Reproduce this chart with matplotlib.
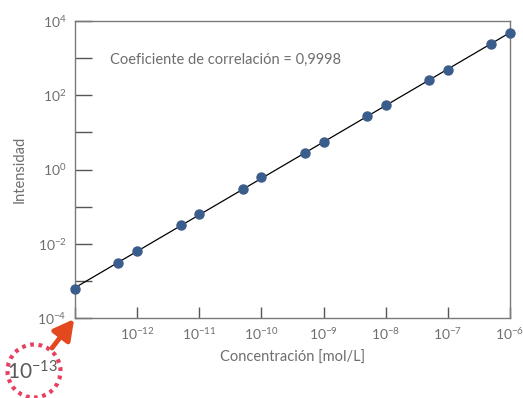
import numpy as np
import matplotlib
matplotlib.use("Agg")
import matplotlib.pyplot as plt
from matplotlib.patches import Circle

plt.rcParams['font.family'] = ['Lato', 'DejaVu Sans']
plt.rcParams['mathtext.fontset'] = 'custom'
plt.rcParams['mathtext.rm'] = 'Lato'

# curva de calibración: concentración vs intensidad
concentracion = [1e-13, 5e-13, 1e-12, 5e-12, 1e-11, 5e-11, 1e-10, 5e-10,
                 1e-9, 5e-9, 1e-8, 5e-8, 1e-7, 5e-7, 1e-6]
intensidad = [6.0e-4, 3.0e-3, 6.3e-3, 3.2e-2, 6.3e-2, 0.30, 0.63, 2.8,
              5.5, 27, 55, 260, 480, 2400, 4800]
coef_correlacion = "0,9998"

gris = '#6e6e6e'
azul = '#3b5d8c'

fig = plt.figure(figsize=(5.23, 3.98), dpi=100)
ax = fig.add_axes([0.1434, 0.201, 0.8316, 0.746])

# recta de regresión en escala log-log
lx = np.log10(concentracion)
ly = np.log10(intensidad)
m, b = np.polyfit(lx, ly, 1)
xr = np.array([1e-13, 1e-6])
ax.plot(xr, 10 ** (m * np.log10(xr) + b), color='black', lw=0.9, zorder=2)

ax.plot(concentracion, intensidad, 'o', color=azul, ms=6.5, zorder=3, clip_on=False)

ax.set_xscale('log')
ax.set_yscale('log')
ax.set_xlim(1e-13, 1e-6)
ax.set_ylim(1e-4, 1e4)

for s in ax.spines.values():
    s.set_color('#7a7a7a')
    s.set_linewidth(1.0)

# solo se rotulan las potencias pares en el eje y
ax.set_yticks([10.0 ** e for e in range(-4, 5)])
ax.set_yticklabels(['' if (e % 2) else r'$\mathdefault{10^{%d}}$' % e for e in range(-4, 5)])
ax.set_xticks([10.0 ** e for e in range(-13, -5)])
ax.set_xticklabels([''] + [r'$\mathdefault{10^{%d}}$' % e for e in range(-12, -5)])
ax.minorticks_off()

ax.tick_params(axis='y', direction='in', length=12, width=1, color='#555555',
               labelcolor=gris, labelsize=10, pad=6)
ax.tick_params(axis='x', direction='in', length=8, width=1, color='#555555',
               labelcolor=gris, labelsize=10, pad=6)

ax.set_xlabel('Concentración [mol/L]', color=gris, fontsize=10.5, labelpad=6)
ax.set_ylabel('Intensidad', color=gris, fontsize=10.5, labelpad=8)

ax.text(0.08, 0.87, 'Coeficiente de correlación = ' + coef_correlacion,
        transform=ax.transAxes, color=gris, fontsize=10.5, va='center', ha='left')

# marca del origen del eje x
circ = Circle((0.34, 0.27), 0.265, transform=fig.dpi_scale_trans, fill=False,
              edgecolor='#e8405f', lw=3, linestyle=(0, (0.9, 1.1)))
fig.add_artist(circ)
fig.text(0.32, 0.265, r'$\mathdefault{10^{-13}}$', transform=fig.dpi_scale_trans,
         ha='center', va='center', color='#5a5a5a', fontsize=15)
ax.annotate('', xy=(1e-13, 1e-4), xycoords='data',
            xytext=(0.52, 0.50), textcoords=fig.dpi_scale_trans,
            arrowprops=dict(arrowstyle='-|>,head_length=1.2,head_width=0.65',
                            color='#e4481f', lw=3.5, shrinkA=0, shrinkB=1),
            annotation_clip=False)

fig.savefig('out.png', dpi=100)
